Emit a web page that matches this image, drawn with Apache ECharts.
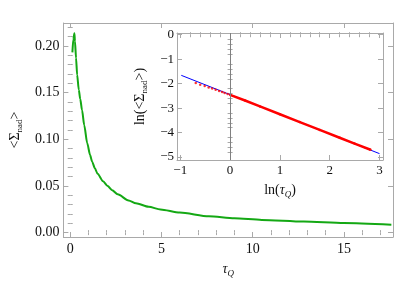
<!DOCTYPE html>
<html>
<head>
<meta charset="utf-8">
<script src="https://cdn.jsdelivr.net/npm/echarts@6.0.0/dist/echarts.min.js"></script>
<style>
  html, body { margin: 0; padding: 0; background: #fff; }
  #chart { width: 399px; height: 299px; }
</style>
</head>
<body>
<div id="chart"></div>
<script>
// main curve: <Sigma_nad> against tau_Q
var tauQ = [0.12, 0.17, 0.23, 0.26, 0.32, 0.38, 0.47, 0.55, 0.65, 0.77, 0.93, 1.09, 1.2, 1.35, 1.5, 1.8,
  2.05, 2.3, 2.6, 3.2, 3.6, 4.3, 4.95, 6.0, 7.6, 9.0, 10.5, 12.8, 15.0, 17.6];
var sigmaNad = [0.193, 0.207, 0.2135, 0.205, 0.187, 0.169, 0.153, 0.143, 0.131, 0.115, 0.096, 0.083, 0.076, 0.069, 0.063, 0.055,
  0.050, 0.0455, 0.041, 0.0345, 0.0315, 0.0277, 0.0248, 0.0215, 0.0175, 0.0153, 0.0136, 0.0118, 0.0103, 0.0085];

// inset: log-log points (red) and fitted line (blue)
var lnTau = [-0.69, -0.6, -0.51, -0.43, -0.36, -0.29, -0.22, -0.16, -0.11, -0.05, 0,
  0.3, 0.6, 1.0, 1.4, 1.8, 2.2, 2.5, 2.82];
var lnSigma = [-1.97, -2.04, -2.10, -2.16, -2.20, -2.25, -2.30, -2.34, -2.38, -2.42, -2.46,
  -2.69, -2.93, -3.25, -3.57, -3.89, -4.21, -4.45, -4.70];
var fitLnTau = [-0.98, 3.0];
var fitLnSigma = [-1.66, -4.86];

// tick labels
var mainXTicks = [0, 5, 10, 15];
var mainYTicks = [0, 0.05, 0.1, 0.15, 0.2];
var insetXTicks = [-1, 0, 1, 2, 3];
var insetYTicks = [0, -1, -2, -3, -4, -5];

var AX = '#a9a9a9';
var FONT = '"Liberation Serif", "DejaVu Serif", serif';

function minorTicks(min, max, step, major) {
  var out = [];
  var k0 = Math.ceil(min / step - 1e-9), k1 = Math.floor(max / step + 1e-9);
  for (var k = k0; k <= k1; k++) {
    var v = Math.round(k * step * 10000) / 10000;
    var isMajor = major.some(function (m) { return Math.abs(m - v) < 1e-6; });
    if (!isMajor) out.push(v);
  }
  return out;
}

// one frame side = a major axis (line, long ticks, maybe labels) + a minor axis (short ticks)
function side(grid, pos, min, max, major, step, label) {
  var a = {
    type: 'value', gridIndex: grid, position: pos, min: min, max: max,
    splitLine: { show: false },
    axisLine: { show: true, onZero: false, lineStyle: { color: AX, width: 1 } },
    axisTick: { show: true, inside: true, length: 5, customValues: major, lineStyle: { color: AX } },
    axisLabel: label ? Object.assign({ customValues: major, fontFamily: FONT, color: '#111' }, label) : { show: false }
  };
  var b = {
    type: 'value', gridIndex: grid, position: pos, min: min, max: max,
    splitLine: { show: false },
    axisLine: { show: false },
    axisTick: { show: true, inside: true, length: 2.5, customValues: minorTicks(min, max, step, major), lineStyle: { color: AX } },
    axisLabel: { show: false }
  };
  return [a, b];
}

function minus(v) { return v < 0 ? '\u2212' + (-v) : String(v); }

var subRich = {
  i: { fontFamily: FONT, fontSize: 14, fontStyle: 'italic', color: '#111' },
  si: { fontFamily: FONT, fontSize: 9, fontStyle: 'italic', color: '#111', padding: [9, 0, 0, 0] },
  s: { fontFamily: FONT, fontSize: 9, color: '#111', padding: [9, 0, 0, 0] }
};

var xAxes = [], yAxes = [];
// main plot (grid 0)
var mx = side(0, 'bottom', -0.373, 17.69, mainXTicks, 1, { fontSize: 14, margin: 5, formatter: function (v) { return String(v); } });
Object.assign(mx[0], {
  name: '{i|\u03c4}{si|Q}', nameLocation: 'middle', nameGap: 23,
  nameTextStyle: { fontFamily: FONT, fontSize: 14, color: '#111', rich: subRich }
});
xAxes = xAxes.concat(mx, side(0, 'top', -0.373, 17.69, mainXTicks, 1, null));
var my = side(0, 'left', -0.0047, 0.2245, mainYTicks, 0.01, { fontSize: 14, margin: 4, formatter: function (v) { return v.toFixed(2); } });
Object.assign(my[0], {
  name: '<\u03a3{s|nad}>', nameLocation: 'middle', nameGap: 32, nameRotate: 90,
  nameTextStyle: { fontFamily: FONT, fontSize: 14, color: '#111', rich: subRich }
});
yAxes = yAxes.concat(my, side(0, 'right', -0.0047, 0.2245, mainYTicks, 0.01, null));

// inset (grid 1)
var ix = side(1, 'bottom', -1.066, 3.07, insetXTicks, 0.2, { fontSize: 13, margin: 4, formatter: minus });
Object.assign(ix[0], {
  name: 'ln({i|\u03c4}{si|Q})', nameLocation: 'middle', nameGap: 21,
  nameTextStyle: { fontFamily: FONT, fontSize: 14, color: '#111', rich: subRich }
});
var insetX0 = xAxes.length;
xAxes = xAxes.concat(ix, side(1, 'top', -1.066, 3.07, insetXTicks, 0.2, null));
var iy = side(1, 'left', -5.12, 0.07, insetYTicks, 0.2, { fontSize: 13, margin: 3, formatter: minus });
Object.assign(iy[0], {
  name: 'ln(<\u03a3{s|nad}>)', nameLocation: 'middle', nameGap: 22, nameRotate: 90,
  nameTextStyle: { fontFamily: FONT, fontSize: 14, color: '#111', rich: subRich }
});
var insetY0 = yAxes.length;
yAxes = yAxes.concat(iy, side(1, 'right', -5.12, 0.07, insetYTicks, 0.2, null));

var mainData = tauQ.map(function (t, i) { return [t, sigmaNad[i]]; });
var redData = lnTau.map(function (t, i) { return [t, lnSigma[i]]; });
var redDense = redData.filter(function (p) { return p[0] >= 0; });
var fitData = fitLnTau.map(function (t, i) { return [t, fitLnSigma[i]]; });

var chart = echarts.init(document.getElementById('chart'), null, { renderer: 'canvas' });
chart.setOption({
  animation: false,
  backgroundColor: '#fff',
  grid: [
    { left: 49, top: 23, right: 6, bottom: 62 },
    { left: 177, top: 33, right: 16, bottom: 139, show: true, backgroundColor: '#fff', borderWidth: 0 }
  ],
  xAxis: xAxes,
  yAxis: yAxes,
  series: [
    {
      type: 'line', xAxisIndex: 0, yAxisIndex: 0, data: mainData,
      showSymbol: false, smooth: 0.25, smoothMonotone: 'x',
      lineStyle: { color: '#14a814', width: 2 }
    },
    {
      type: 'line', xAxisIndex: insetX0, yAxisIndex: insetY0, data: fitData,
      showSymbol: false, lineStyle: { color: '#0000ff', width: 1 }, z: 3,
      markLine: {
        silent: true, symbol: ['none', 'none'], label: { show: false },
        lineStyle: { color: '#808080', width: 1, type: 'solid' },
        data: [{ xAxis: 0 }]
      }
    },
    {
      type: 'line', xAxisIndex: insetX0, yAxisIndex: insetY0, data: redDense,
      showSymbol: false, lineStyle: { color: '#ff0000', width: 2.5 }, z: 4
    },
    {
      type: 'scatter', xAxisIndex: insetX0, yAxisIndex: insetY0, data: redData,
      symbolSize: 2.5, itemStyle: { color: '#ff0000' }, z: 4
    }
  ]
});
</script>
</body>
</html>
